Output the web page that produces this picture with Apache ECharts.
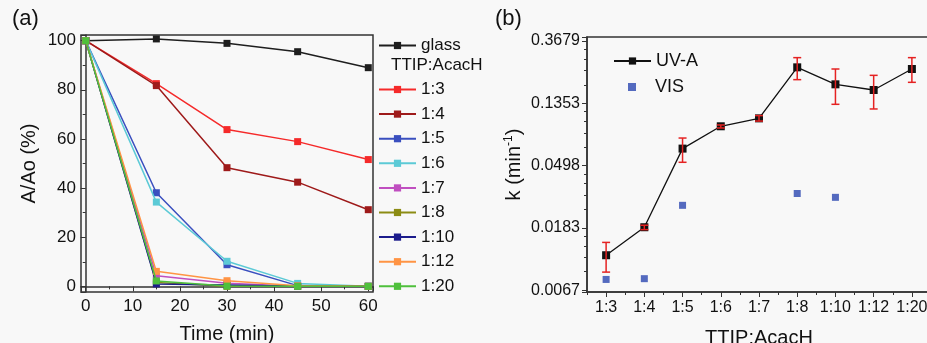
<!DOCTYPE html>
<html>
<head>
<meta charset="utf-8">
<script src="https://cdn.jsdelivr.net/npm/echarts@6/dist/echarts.min.js"></script>
<style>
  html, body { margin: 0; padding: 0; background: #f8f8f8; }
  #chart { width: 927px; height: 343px; }
</style>
</head>
<body>
<div id="chart"></div>
<script>
// (a) Dye absorbance decay A/Ao (%) versus irradiation time
const timeMin = [0, 15, 30, 45, 60];
const decayGlass = [100, 100.7, 98.9, 95.5, 89.0];
const decay13 = [100, 82.5, 63.8, 58.9, 51.6];
const decay14 = [100, 81.7, 48.3, 42.4, 31.2];
const decay15 = [100, 38.1, 8.8, 0.3, 0];
const decay16 = [100, 34.3, 10.2, 1.2, 0];
const decay17 = [100, 4.3, 1.3, 0, 0];
const decay18 = [100, 1.6, 0, 0, 0];
const decay110 = [100, 1.0, 0.5, 0, 0];
const decay112 = [100, 6.1, 2.3, 0.2, 0];
const decay120 = [100, 2.2, 0.1, 0, 0];

const decayNames = ['glass', '1:3', '1:4', '1:5', '1:6', '1:7', '1:8', '1:10', '1:12', '1:20'];
const decayColors = ['#1e1e1e', '#f52a2a', '#9e1a1a', '#3a4fbf', '#5ccad6', '#c04fc0', '#8c8c14', '#1c1c8c', '#ff9444', '#4fc03c'];
const decaySets = [decayGlass, decay13, decay14, decay15, decay16, decay17, decay18, decay110, decay112, decay120];

// (b) Rate constant k (min^-1) versus TTIP:AcacH ratio
const ratios = ['1:3', '1:4', '1:5', '1:6', '1:7', '1:8', '1:10', '1:12', '1:20'];
const kUVA = [0.0118, 0.0185, 0.0654, 0.0936, 0.1063, 0.2412, 0.1836, 0.1676, 0.2348];
const kUVAHigh = [0.0145, 0.0191, 0.0775, 0.0956, 0.1111, 0.2818, 0.2348, 0.2121, 0.2818];
const kUVALow = [0.0090, 0.0178, 0.0525, 0.0911, 0.1018, 0.1979, 0.1332, 0.1236, 0.1896];
const kVIS = [0.0080, 0.0081, 0.0263, null, null, 0.0318, 0.0299, null, null];

const FONT = 'Liberation Sans, Arial, sans-serif';
const AXIS_COLOR = '#333';

const chart = echarts.init(document.getElementById('chart'), null, { renderer: 'canvas' });

const decaySeries = decayNames.map((name, i) => ({
  name: name,
  type: 'line',
  xAxisIndex: 0,
  yAxisIndex: 0,
  data: timeMin.map((t, j) => [t, decaySets[i][j]]),
  symbol: 'rect',
  symbolSize: 7,
  lineStyle: { width: 1.5, color: decayColors[i] },
  itemStyle: { color: decayColors[i] },
  z: 2 + i
}));

const option = {
  backgroundColor: '#f8f8f8',
  animation: false,
  textStyle: { fontFamily: FONT },
  grid: [
    { left: 81, right: 554, top: 35, bottom: 51, containLabel: false, outerBoundsMode: 'none',
      show: true, borderColor: AXIS_COLOR, borderWidth: 1.5 },
    { left: 587, right: -4, top: 37, bottom: 51, containLabel: false, outerBoundsMode: 'none',
      show: true, borderColor: AXIS_COLOR, borderWidth: 1.5 }
  ],
  legend: [
    {
      data: ['glass'],
      left: 378, top: 37, orient: 'vertical', padding: 0,
      itemWidth: 37, itemHeight: 9,
      textStyle: { fontSize: 17, color: '#111', fontFamily: FONT, lineHeight: 14 }
    },
    {
      data: decayNames.slice(1),
      left: 378, top: 81, orient: 'vertical', padding: 0,
      itemWidth: 37, itemHeight: 9, itemGap: 7.6,
      textStyle: { fontSize: 17, color: '#111', fontFamily: FONT, lineHeight: 14 }
    },
    {
      data: ['UV-A'],
      left: 613, top: 52, orient: 'vertical', padding: 0,
      itemWidth: 37, itemHeight: 9,
      textStyle: { fontSize: 18, color: '#111', fontFamily: FONT, lineHeight: 14 }
    },
    {
      data: ['VIS'],
      left: 628, top: 78, orient: 'vertical', padding: 0,
      itemWidth: 8, itemHeight: 8,
      textStyle: { fontSize: 18, color: '#111', fontFamily: FONT, lineHeight: 14, padding: [0, 0, 0, 14] }
    }
  ],
  graphic: [
    { type: 'text', left: 12, top: 8, style: { text: '(a)', fontSize: 22, fill: '#111', fontFamily: FONT } },
    { type: 'text', left: 495, top: 8, style: { text: '(b)', fontSize: 22, fill: '#111', fontFamily: FONT } },
    { type: 'text', left: 391, top: 57, style: { text: 'TTIP:AcacH', fontSize: 17, fill: '#111', fontFamily: FONT } }
  ],
  xAxis: [
    {
      gridIndex: 0, type: 'value', min: -1, max: 61,
      name: 'Time (min)', nameLocation: 'middle', nameGap: 32,
      nameTextStyle: { fontSize: 20, color: '#111', fontFamily: FONT },
      axisLine: { lineStyle: { color: AXIS_COLOR, width: 1.5 } },
      axisTick: { show: true, inside: false, length: 5, lineStyle: { color: AXIS_COLOR } },
      minorTick: { show: true, splitNumber: 2, length: 3, lineStyle: { color: AXIS_COLOR } },
      axisLabel: { fontSize: 17, color: '#111', margin: 6, showMinLabel: false, showMaxLabel: false, fontFamily: FONT },
      splitLine: { show: false }
    },
    {
      gridIndex: 1, type: 'category', data: ratios, boundaryGap: true,
      name: 'TTIP:AcacH', nameLocation: 'middle', nameGap: 36,
      nameTextStyle: { fontSize: 20, color: '#111', fontFamily: FONT },
      axisLine: { lineStyle: { color: AXIS_COLOR, width: 1.5 } },
      axisTick: { show: true, alignWithLabel: true, length: 5, lineStyle: { color: AXIS_COLOR } },
      axisLabel: { fontSize: 16, color: '#111', margin: 8, interval: 0, fontFamily: FONT },
      splitLine: { show: false }
    },
    {
      // minor ticks between categories
      gridIndex: 1, type: 'category', data: ratios, boundaryGap: true, position: 'bottom',
      axisLine: { show: false },
      axisTick: { show: true, alignWithLabel: false, length: 3, lineStyle: { color: AXIS_COLOR } },
      axisLabel: { show: false },
      splitLine: { show: false }
    }
  ],
  yAxis: [
    {
      gridIndex: 0, type: 'value', min: -2.3, max: 102.3,
      name: 'A/Ao (%)', nameLocation: 'middle', nameGap: 42,
      nameTextStyle: { fontSize: 20, color: '#111', fontFamily: FONT },
      axisLine: { show: true, lineStyle: { color: AXIS_COLOR, width: 1.5 } },
      axisTick: { show: true, length: 5, lineStyle: { color: AXIS_COLOR } },
      minorTick: { show: true, splitNumber: 2, length: 3, lineStyle: { color: AXIS_COLOR } },
      axisLabel: { fontSize: 17, color: '#111', margin: 5, showMinLabel: false, showMaxLabel: false, fontFamily: FONT },
      splitLine: { show: false }
    },
    {
      gridIndex: 1, type: 'log', logBase: Math.E,
      min: Math.exp(-5.03), max: Math.exp(-0.935),
      name: 'k (min{sup|-1})', nameLocation: 'middle', nameGap: 62,
      nameTextStyle: {
        fontSize: 20, color: '#111', fontFamily: FONT,
        rich: { sup: { fontSize: 12, verticalAlign: 'top', padding: [0, 0, 10, 0], fontFamily: FONT, color: '#111' } }
      },
      axisLine: { show: true, lineStyle: { color: AXIS_COLOR, width: 1.5 } },
      axisTick: { show: true, length: 5, lineStyle: { color: AXIS_COLOR } },
      minorTick: { show: true, splitNumber: 5, length: 3, lineStyle: { color: AXIS_COLOR } },
      axisLabel: {
        fontSize: 16, color: '#111', margin: 7, showMinLabel: false, showMaxLabel: false, fontFamily: FONT,
        formatter: v => Number(v).toFixed(4)
      },
      splitLine: { show: false }
    }
  ],
  series: decaySeries.concat([
    {
      name: 'UV-A', type: 'line', xAxisIndex: 1, yAxisIndex: 1,
      data: kUVA,
      symbol: 'rect', symbolSize: 8,
      lineStyle: { width: 1.3, color: '#111' },
      itemStyle: { color: '#111' },
      z: 3
    },
    {
      name: 'UV-A error', type: 'custom', xAxisIndex: 1, yAxisIndex: 1,
      data: ratios.map((r, i) => [i, kUVALow[i], kUVAHigh[i]]),
      renderItem: function (params, api) {
        const x = api.value(0);
        const lo = api.coord([x, api.value(1)]);
        const hi = api.coord([x, api.value(2)]);
        const hw = 4;
        const style = { stroke: '#e52222', lineWidth: 1.5 };
        return {
          type: 'group',
          children: [
            { type: 'line', shape: { x1: lo[0], y1: lo[1], x2: hi[0], y2: hi[1] }, style: style },
            { type: 'line', shape: { x1: hi[0] - hw, y1: hi[1], x2: hi[0] + hw, y2: hi[1] }, style: style },
            { type: 'line', shape: { x1: lo[0] - hw, y1: lo[1], x2: lo[0] + hw, y2: lo[1] }, style: style }
          ]
        };
      },
      z: 4
    },
    {
      name: 'VIS', type: 'scatter', xAxisIndex: 1, yAxisIndex: 1,
      data: kVIS,
      symbol: 'rect', symbolSize: 7,
      itemStyle: { color: '#2a46b0' },
      z: 3
    }
  ])
};

chart.setOption(option);
</script>
</body>
</html>
